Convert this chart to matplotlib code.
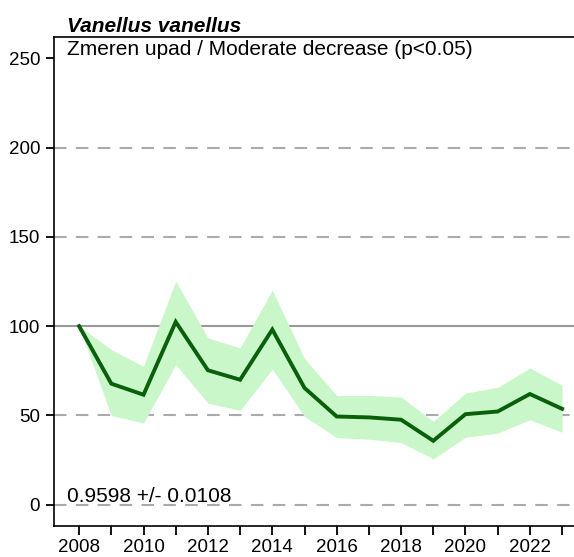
import matplotlib
matplotlib.use("Agg")
import matplotlib.pyplot as plt
import numpy as np

plt.rcParams['font.family'] = ['Liberation Sans', 'DejaVu Sans']

years = [2008, 2009, 2010, 2011, 2012, 2013, 2014, 2015,
         2016, 2017, 2018, 2019, 2020, 2021, 2022, 2023]
index = [100, 67.8, 61.6, 102.4, 75.3, 70.0, 98.1, 65.4,
         49.4, 48.9, 47.6, 35.8, 50.7, 52.2, 62.0, 53.7]
upper = [100, 86.9, 77.5, 125.3, 93.4, 87.8, 120.2, 81.8,
         61.2, 61.2, 60.3, 46.6, 62.5, 65.7, 76.6, 66.9]
lower = [100, 50.0, 45.7, 78.5, 56.9, 52.8, 76.0, 49.4,
         37.6, 36.7, 34.8, 25.7, 37.8, 40.1, 47.6, 40.6]
yticks = [0, 50, 100, 150, 200, 250]
dashed_levels = [0, 50, 150, 200]
xtick_labels = [2008, 2010, 2012, 2014, 2016, 2018, 2020, 2022]

title = "Vanellus vanellus"
subtitle = "Zmeren upad / Moderate decrease (p<0.05)"
slope_text = "0.9598 +/- 0.0108"

W, H = 574, 557
fig = plt.figure(figsize=(W / 100, H / 100), dpi=100)
left, right, top, bottom = 54, 574, 37.3, 525.5
ax = fig.add_axes([left / W, 1 - bottom / H, (right - left) / W, (bottom - top) / H])

for lv in dashed_levels:
    ax.axhline(lv, color='#ababab', lw=1.5, dashes=(6, 4.5), zorder=1)
ax.axhline(100, color='#999999', lw=1.5, zorder=1)

ax.fill_between(years, lower, upper, color='#c9f7c9', lw=0, zorder=2)
ax.plot(years, index, color='#0a5f0a', lw=2.8, zorder=3, solid_joinstyle='miter')

ax.set_xlim(2007.22, 2023.37)
ax.set_ylim(-11.65, 261.8)
ax.set_yticks(yticks)
ax.set_yticklabels([str(v) for v in yticks])
ax.set_xticks(years, minor=False)
ax.set_xticklabels([str(y) if y in xtick_labels else '' for y in years])

ax.tick_params(axis='both', direction='out', width=1.3, labelsize=13.5,
               colors='black')
ax.tick_params(axis='x', length=6.5, pad=3.5)
ax.tick_params(axis='y', length=5.5, pad=4.5)
for s in ['left', 'top', 'bottom']:
    ax.spines[s].set_linewidth(1.2)
    ax.spines[s].set_color('black')
ax.spines['right'].set_visible(False)

ax.text(2007.61, 251.8, subtitle, ha='left', va='baseline', fontsize=15)
ax.text(2007.61, 1.5, slope_text, ha='left', va='baseline', fontsize=15)
fig.text(67 / W, 1 - 32 / H, title, ha='left', va='baseline', fontsize=15,
         fontweight='bold', fontstyle='italic')

fig.savefig("out.png", dpi=100)
